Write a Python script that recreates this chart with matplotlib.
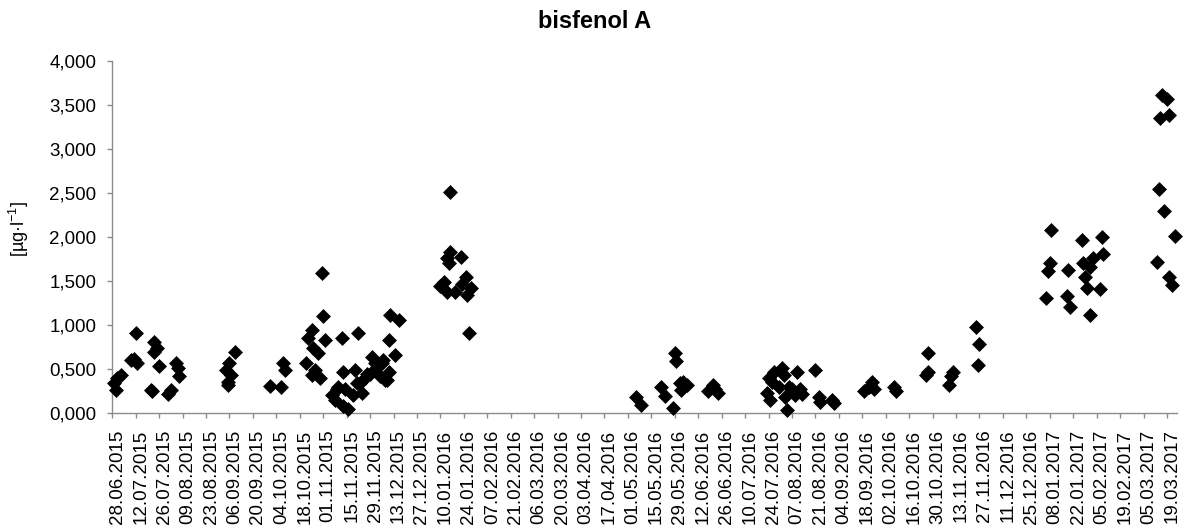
import pandas as pd
import matplotlib
matplotlib.use("Agg")
from matplotlib import pyplot as plt
import matplotlib.dates as mdates
import matplotlib.transforms as mtransforms

# sampling dates and bisphenol A concentrations [ug/l]
dates = [
    "2015-06-29", "2015-06-30", "2015-07-01", "2015-07-03", "2015-07-09", "2015-07-11",
    "2015-07-12", "2015-07-13", "2015-07-21", "2015-07-22", "2015-07-23", "2015-07-23",
    "2015-07-25", "2015-07-26", "2015-07-31", "2015-08-02", "2015-08-05", "2015-08-06",
    "2015-08-07",
    "2015-09-04", "2015-09-05", "2015-09-05", "2015-09-06", "2015-09-07", "2015-09-09",
    "2015-09-30", "2015-10-07", "2015-10-08", "2015-10-09",
    "2015-10-22", "2015-10-23", "2015-10-25", "2015-10-25", "2015-10-26", "2015-10-27",
    "2015-10-29", "2015-10-30", "2015-10-31", "2015-11-01", "2015-11-02", "2015-11-06",
    "2015-11-08", "2015-11-09", "2015-11-10", "2015-11-12", "2015-11-13", "2015-11-13",
    "2015-11-14", "2015-11-16", "2015-11-19", "2015-11-20", "2015-11-21", "2015-11-22",
    "2015-11-23", "2015-11-24", "2015-11-26", "2015-11-27", "2015-11-29", "2015-11-30",
    "2015-12-02", "2015-12-03", "2015-12-05", "2015-12-06", "2015-12-07", "2015-12-08",
    "2015-12-09", "2015-12-10", "2015-12-10", "2015-12-11", "2015-12-14", "2015-12-16",
    "2016-01-10", "2016-01-12", "2016-01-14", "2016-01-14", "2016-01-15", "2016-01-16",
    "2016-01-16", "2016-01-19", "2016-01-22", "2016-01-23", "2016-01-25", "2016-01-26",
    "2016-01-27", "2016-01-28",
    "2016-05-06", "2016-05-09", "2016-05-21", "2016-05-23", "2016-05-28", "2016-05-29",
    "2016-05-30", "2016-06-01", "2016-06-02", "2016-06-03", "2016-06-05",
    "2016-06-18", "2016-06-21", "2016-06-22", "2016-06-24",
    "2016-07-23", "2016-07-24", "2016-07-25", "2016-07-26", "2016-07-27", "2016-07-30",
    "2016-08-01", "2016-08-02", "2016-08-03", "2016-08-04", "2016-08-05", "2016-08-07",
    "2016-08-09", "2016-08-10", "2016-08-12", "2016-08-13", "2016-08-21", "2016-08-23",
    "2016-08-24", "2016-08-31", "2016-09-01",
    "2016-09-19", "2016-09-22", "2016-09-24", "2016-09-25", "2016-10-07", "2016-10-08",
    "2016-10-26", "2016-10-27", "2016-10-27", "2016-11-09", "2016-11-10", "2016-11-11",
    "2016-11-25", "2016-11-26", "2016-11-27",
    "2017-01-06", "2017-01-07", "2017-01-08", "2017-01-09", "2017-01-18", "2017-01-19",
    "2017-01-20", "2017-01-27", "2017-01-28", "2017-01-29", "2017-01-30", "2017-02-01",
    "2017-02-01", "2017-02-03", "2017-02-07", "2017-02-08", "2017-02-09",
    "2017-03-13", "2017-03-14", "2017-03-15", "2017-03-16", "2017-03-17", "2017-03-19",
    "2017-03-20", "2017-03-20", "2017-03-22", "2017-03-24",
]
values = [
    0.34, 0.26, 0.40, 0.43, 0.60, 0.62,
    0.91, 0.57, 0.26, 0.25, 0.81, 0.70,
    0.74, 0.54, 0.22, 0.26, 0.57, 0.51,
    0.42,
    0.49, 0.32, 0.36, 0.57, 0.43, 0.70,
    0.31, 0.30, 0.57, 0.49,
    0.57, 0.85, 0.94, 0.43, 0.74, 0.49,
    0.68, 0.40, 1.59, 1.10, 0.83, 0.21,
    0.15, 0.28, 0.30, 0.85, 0.47, 0.08,
    0.28, 0.05, 0.21, 0.49, 0.34, 0.91,
    0.34, 0.23, 0.40, 0.45, 0.45, 0.64,
    0.57, 0.53, 0.42, 0.57, 0.60, 0.38,
    0.38, 0.83, 0.47, 1.11, 0.66, 1.06,
    1.44, 1.49, 1.76, 1.38, 1.70, 2.51,
    1.83, 1.38, 1.77, 1.47, 1.55, 1.34,
    0.91, 1.42,
    0.19, 0.09, 0.30, 0.20, 0.06, 0.68,
    0.59, 0.34, 0.26, 0.36, 0.32,
    0.25, 0.32, 0.28, 0.23,
    0.23, 0.40, 0.15, 0.36, 0.47, 0.30,
    0.51, 0.43, 0.19, 0.04, 0.30, 0.28,
    0.21, 0.47, 0.28, 0.22, 0.49, 0.19,
    0.13, 0.15, 0.12,
    0.25, 0.30, 0.36, 0.28, 0.30, 0.25,
    0.43, 0.68, 0.47, 0.32, 0.42, 0.47,
    0.98, 0.55, 0.79,
    1.31, 1.61, 1.70, 2.08, 1.33, 1.63,
    1.21, 1.97, 1.70, 1.55, 1.42, 1.66,
    1.12, 1.76, 1.41, 2.00, 1.81,
    1.72, 2.54, 3.35, 3.61, 2.29, 3.57,
    3.38, 1.55, 1.45, 2.01,
]

first_tick = "2015-06-28"
last_tick = "2017-03-19"
x_end = "2017-03-25"

df = pd.DataFrame({"date": pd.to_datetime(dates), "value": values})

plt.rcParams["font.family"] = ["Liberation Sans", "DejaVu Sans"]
plt.rcParams["mathtext.fontset"] = "custom"
plt.rcParams["mathtext.rm"] = "Liberation Sans"
plt.rcParams["mathtext.it"] = "Liberation Sans:italic"

fig = plt.figure(figsize=(11.89, 5.30), dpi=100)
ax = fig.add_axes([112.3 / 1189, 1 - 413.3 / 530, (1177 - 112.3) / 1189, (413.3 - 60.7) / 530])

ax.scatter(df["date"], df["value"], marker="D", s=58, color="black", linewidths=0,
           clip_on=False, zorder=3)

# axes
ax.set_ylim(0, 4)
ax.set_yticks([i * 0.5 for i in range(9)])
ax.set_yticklabels([("%.3f" % (i * 0.5)).replace(".", ",") for i in range(9)])
ax.set_xlim(pd.Timestamp(first_tick), pd.Timestamp(x_end))
ticks = pd.date_range(first_tick, last_tick, freq="14D")
ax.set_xticks(ticks)
ax.xaxis.set_major_formatter(mdates.DateFormatter("%d.%m.%Y"))
plt.setp(ax.get_xticklabels(), rotation=90, ha="center", va="top")

for side in ["top", "right"]:
    ax.spines[side].set_visible(False)
for side in ["left", "bottom"]:
    ax.spines[side].set_color("#8c8c8c")
    ax.spines[side].set_linewidth(1.0)
ax.tick_params(axis="both", colors="#8c8c8c", length=3.6, width=1.0, direction="out",
               labelcolor="black", labelsize=13.5)
ax.tick_params(axis="y", pad=8)
ax.tick_params(axis="x", pad=8)

# shift rotated date labels slightly right, like in the original
offset = mtransforms.ScaledTranslation(5 / 100, 0, fig.dpi_scale_trans)
for label in ax.get_xticklabels():
    label.set_transform(label.get_transform() + offset)

fig.text(0.5, 1 - 22 / 530, "bisfenol A", ha="center", va="center",
         fontsize=17, fontweight="bold")
fig.text(19 / 1189, 1 - 229 / 530, "[µg·l$^{-1}$]", rotation=90, ha="center", va="center",
         fontsize=13)

fig.savefig("out.png", dpi=100)
